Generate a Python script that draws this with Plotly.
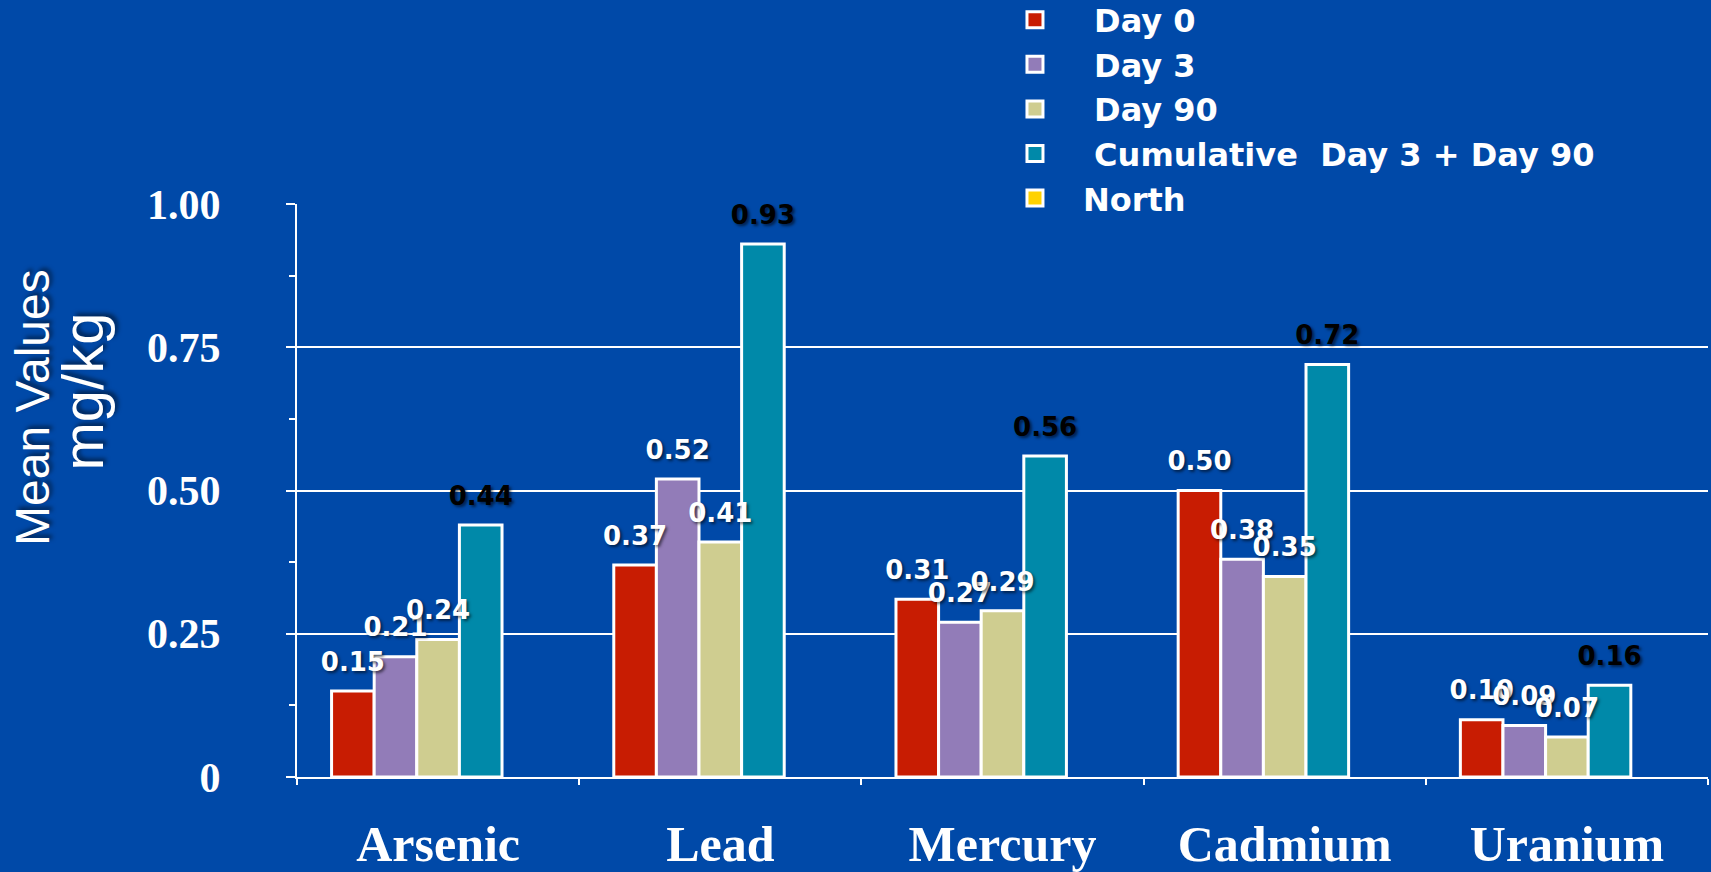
import plotly.graph_objects as go

# 数据
elements = ['Arsenic', 'Lead', 'Mercury', 'Cadmium', 'Uranium']
day0 = [0.15, 0.37, 0.31, 0.50, 0.10]
day3 = [0.21, 0.52, 0.27, 0.38, 0.09]
day90 = [0.24, 0.41, 0.29, 0.35, 0.07]
cumulative = [0.44, 0.93, 0.56, 0.72, 0.16]
north = [None, None, None, None, None]

y_ticks = [0, 0.25, 0.5, 0.75, 1.0]
y_tick_labels = ['0', '0.25', '0.50', '0.75', '1.00']

series = [
    ('\u00a0Day 0', day0, '#c81c02', 'white'),
    ('\u00a0Day 3', day3, '#927cb8', 'white'),
    ('\u00a0Day 90', day90, '#cfcd90', 'white'),
    ('\u00a0Cumulative  Day 3 + Day 90', cumulative, '#0089a9', 'black'),
    ('North', north, '#ffd200', 'white'),
]

bg = '#0049a8'
label_shadow = '2px 2px 3px rgba(0,0,0,0.55)'


def bar_label(v):
    # 数值标签，下面加一行小空行，让标签离柱顶远一点
    if v is None:
        return ''
    return "<span style='font-size:26px'>%.2f</span><br>\u00a0" % v


fig = go.Figure()

# 柱子
for i, (name, vals, color, txtcolor) in enumerate(series):
    fig.add_trace(go.Bar(
        x=elements,
        y=vals,
        name=name,
        offsetgroup=str(i),
        legendgroup=name,
        showlegend=False,
        marker=dict(color=color, line=dict(color='white', width=3)),
    ))

# 数值标签放在透明柱上，画在所有柱子之上
for i, (name, vals, color, txtcolor) in enumerate(series):
    fig.add_trace(go.Bar(
        x=elements,
        y=vals,
        name=name,
        offsetgroup=str(i),
        legendgroup=name,
        showlegend=False,
        hoverinfo='skip',
        marker=dict(color='rgba(0,0,0,0)', line=dict(width=0)),
        text=[bar_label(v) for v in vals],
        textposition='outside',
        constraintext='none',
        cliponaxis=False,
        textfont=dict(family='DejaVu Sans', size=11, color=txtcolor,
                      weight='bold', shadow=label_shadow),
    ))

# 图例用的方块（比柱状图默认的图例方块大一些）
for name, vals, color, txtcolor in series:
    fig.add_trace(go.Scatter(
        x=[None], y=[None],
        mode='markers',
        name=name,
        legendgroup=name,
        marker=dict(symbol='square', size=16, color=color,
                    line=dict(color='white', width=3)),
    ))

# 上边距设为0，绘图区高度由y轴domain控制，图例放在上方空白处
fig.update_layout(
    width=1711, height=872,
    barmode='group',
    bargap=0.245,
    bargroupgap=0.0,
    paper_bgcolor=bg,
    plot_bgcolor=bg,
    margin=dict(l=297, r=3, t=0, b=95, autoexpand=False),
    showlegend=True,
    legend=dict(
        x=0.489, xanchor='left',
        y=1.0098, yanchor='top',
        bgcolor='rgba(0,0,0,0)',
        font=dict(family='DejaVu Sans', size=32, color='white', weight='bold'),
        itemwidth=86,
        traceorder='normal',
    ),
    annotations=[
        dict(
            text='Mean Values',
            xref='paper', yref='paper',
            x=-0.1871, y=0.475,
            xanchor='center', yanchor='middle',
            textangle=-90,
            showarrow=False,
            font=dict(family='Liberation Sans', size=48, color='white',
                      shadow='3px 3px 4px rgba(0,0,0,0.5)'),
        ),
        dict(
            text='mg/kg',
            xref='paper', yref='paper',
            x=-0.152, y=0.4955,
            xanchor='center', yanchor='middle',
            textangle=-90,
            showarrow=False,
            font=dict(family='Liberation Sans', size=58, color='white',
                      shadow='3px 3px 4px rgba(0,0,0,0.5)'),
        ),
    ],
)

fig.update_xaxes(
    showline=True, linecolor='white', linewidth=2,
    ticks='outside', tickson='boundaries', ticklen=6, tickwidth=2, tickcolor='white',
    tickfont=dict(family='Liberation Serif', size=50, color='white', weight='bold'),
    ticklabelstandoff=22,
    showgrid=False,
    automargin=False,
)

fig.update_yaxes(
    domain=[0, 573 / 777],
    range=[0, 1.0],
    tickvals=y_ticks,
    ticktext=y_tick_labels,
    showline=True, linecolor='white', linewidth=2,
    showgrid=True, gridcolor='white', gridwidth=2,
    ticks='outside', ticklen=9, tickwidth=2, tickcolor='white',
    minor=dict(dtick=0.125, ticks='outside', ticklen=6, tickwidth=2,
               tickcolor='white', showgrid=False),
    tickfont=dict(family='Liberation Serif', size=42, color='white', weight='bold'),
    ticklabelstandoff=57,
    zeroline=False,
    automargin=False,
)

fig.write_html(
    'out.html',
    config={'displayModeBar': False},
    post_script="document.body.style.margin='0';document.body.style.background='%s';" % bg,
)
